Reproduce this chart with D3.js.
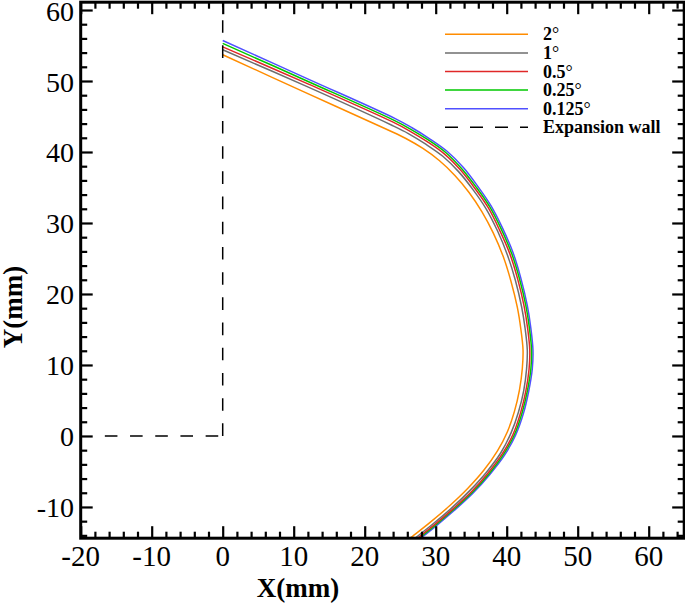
<!DOCTYPE html>
<html><head><meta charset="utf-8">
<script src="https://cdn.jsdelivr.net/npm/d3@7"></script>
<style>body{margin:0;background:#fff}svg{display:block}</style>
</head><body>
<svg id="c" width="685" height="605"></svg>
<script>
const seriesNames = ["2", "1", "0.5", "0.25", "0.125"];
const seriesColors = ["#ff8c00", "#6e6e6e", "#e02828", "#00c800", "#5050ff"];
const s2 = [[0,53.7],[11.6,48.4],[23.3,43.1],[25.8,41.9],[28.2,40.5],[30.5,38.8],[32.7,36.7],[34.7,34.3],[36.5,31.6],[38.1,28.6],[39.5,25.3],[40.6,21.8],[41.5,18.1],[42.0,15.0],[42.3,12.1],[42.2,9.5],[41.8,6.5],[41.1,3.5],[40.1,0.6],[38.7,-2.1],[36.8,-4.8],[34.5,-7.4],[32.0,-9.8],[29.3,-12.1],[26.4,-14.4],[25.4,-15.2]];
const s1 = [[0,54.4],[11.9,49.2],[23.75,43.8],[26.15,42.6],[28.6,41.1],[31.0,39.4],[33.25,37.2],[35.25,34.7],[37.1,32.0],[38.7,28.9],[40.1,25.5],[41.2,22.0],[42.1,18.2],[42.6,15.1],[42.9,12.1],[42.8,9.45],[42.4,6.4],[41.65,3.35],[40.6,0.4],[39.15,-2.4],[37.15,-5.1],[34.8,-7.7],[32.3,-10.1],[29.6,-12.4],[26.7,-14.7],[25.7,-15.5]];
const s05 = [[0,54.8],[12.0,49.6],[24.0,44.2],[26.35,42.95],[28.8,41.45],[31.25,39.7],[33.5,37.45],[35.5,34.9],[37.4,32.15],[39.0,29.0],[40.45,25.65],[41.55,22.1],[42.45,18.3],[42.95,15.15],[43.25,12.1],[43.15,9.4],[42.7,6.35],[41.95,3.25],[40.9,0.25],[39.4,-2.5],[37.35,-5.25],[35.0,-7.9],[32.4,-10.3],[29.7,-12.6],[26.8,-14.9],[25.8,-15.7]];
const s025 = [[0,55.3],[12.1,49.9],[24.15,44.45],[26.5,43.2],[28.95,41.7],[31.45,39.9],[33.7,37.6],[35.7,35.05],[37.6,32.3],[39.25,29.1],[40.7,25.7],[41.8,22.15],[42.7,18.35],[43.2,15.2],[43.5,12.1],[43.4,9.4],[42.9,6.3],[42.15,3.2],[41.1,0.2],[39.55,-2.6],[37.5,-5.35],[35.1,-8.0],[32.5,-10.4],[29.8,-12.7],[26.9,-15.0],[25.9,-15.8]];
const s0125 = [[0,55.7],[12.2,50.2],[24.3,44.7],[26.6,43.45],[29.1,41.9],[31.6,40.1],[33.9,37.8],[35.9,35.2],[37.8,32.4],[39.45,29.2],[40.9,25.8],[42.0,22.2],[42.9,18.4],[43.4,15.2],[43.7,12.1],[43.6,9.4],[43.1,6.3],[42.35,3.15],[41.25,0.1],[39.7,-2.7],[37.6,-5.45],[35.2,-8.1],[32.6,-10.5],[29.9,-12.8],[27.0,-15.1],[26.0,-15.9]];
const seriesData = [s2, s1, s05, s025, s0125];
const wallVertical = [[0,0],[0,61.1]];
const wallHorizontal = [[-16.6,0],[0,0]];
const xTicks = [-20,-10,0,10,20,30,40,50,60];
const yTicks = [-10,0,10,20,30,40,50,60];
const xDomain = [-20, 65];
const yDomain = [-14.4, 61.1];

const svg = d3.select("#c");
const x = d3.scaleLinear().domain(xDomain).range([80.7, 684.2]);
const y = d3.scaleLinear().domain(yDomain).range([538.2, 2.2]);
const font = "'Liberation Serif','Times New Roman',serif";

svg.append("defs").append("clipPath").attr("id","pc").append("rect")
  .attr("x", x(xDomain[0])).attr("y", y(yDomain[1]))
  .attr("width", x(xDomain[1]) - x(xDomain[0])).attr("height", y(yDomain[0]) - y(yDomain[1]));

const line = d3.line().x(d => x(d[0])).y(d => y(d[1])).curve(d3.curveCatmullRom.alpha(0.5));
const g = svg.append("g").attr("clip-path","url(#pc)");
for (let i = seriesData.length - 1; i >= 0; i--) {
  g.append("path").datum(seriesData[i]).attr("d", line)
    .attr("fill","none").attr("stroke", seriesColors[i]).attr("stroke-width", 1.5);
}
const lin = d3.line().x(d => x(d[0])).y(d => y(d[1]));
g.append("path").datum(wallVertical).attr("d", lin).attr("fill","none")
  .attr("stroke","#000").attr("stroke-width",1.5).attr("stroke-dasharray","12.6,12.6");
g.append("path").datum(wallHorizontal).attr("d", lin).attr("fill","none")
  .attr("stroke","#000").attr("stroke-width",1.5).attr("stroke-dasharray","12.6,12.6");

// axes with inward ticks
const minorX = d3.range(-20, 65.01, 2).filter(v => v % 10 !== 0);
const minorY = d3.range(-14, 61.01, 2).filter(v => v % 10 !== 0);
function ticks(axisGen, tr) {
  return svg.append("g").attr("transform", tr).call(axisGen)
    .call(s => s.select(".domain").remove())
    .call(s => s.selectAll("text").remove())
    .call(s => s.selectAll("line").attr("stroke","#000").attr("stroke-width",2.2));
}
const majL = 12, minL = 6.5;
ticks(d3.axisTop(x).tickValues(xTicks).tickSize(majL), `translate(0,${y(yDomain[0])})`);
ticks(d3.axisTop(x).tickValues(minorX).tickSize(minL), `translate(0,${y(yDomain[0])})`);
ticks(d3.axisBottom(x).tickValues(xTicks).tickSize(majL), `translate(0,${y(yDomain[1])})`);
ticks(d3.axisBottom(x).tickValues(minorX).tickSize(minL), `translate(0,${y(yDomain[1])})`);
ticks(d3.axisRight(y).tickValues(yTicks).tickSize(majL), `translate(${x(xDomain[0])},0)`);
ticks(d3.axisRight(y).tickValues(minorY).tickSize(minL), `translate(${x(xDomain[0])},0)`);
ticks(d3.axisLeft(y).tickValues(yTicks).tickSize(majL), `translate(${x(xDomain[1])},0)`);
ticks(d3.axisLeft(y).tickValues(minorY).tickSize(minL), `translate(${x(xDomain[1])},0)`);

svg.append("rect").attr("x", x(xDomain[0])).attr("y", y(yDomain[1]))
  .attr("width", x(xDomain[1]) - x(xDomain[0])).attr("height", y(yDomain[0]) - y(yDomain[1]))
  .attr("fill","none").attr("stroke","#000").attr("stroke-width",3);

// tick labels
svg.append("g").selectAll("text").data(xTicks).join("text")
  .attr("x", d => x(d)).attr("y", 566).attr("text-anchor","middle")
  .attr("font-family", font).attr("font-size", 29).text(d => d);
svg.append("g").selectAll("text").data(yTicks).join("text")
  .attr("x", 74).attr("y", d => y(d) + 10.5).attr("text-anchor","end")
  .attr("font-family", font).attr("font-size", 28).text(d => d);

svg.append("text").attr("x", 298).attr("y", 597).attr("text-anchor","middle")
  .attr("font-family", font).attr("font-size", 27).attr("font-weight","bold").text("X(mm)");
svg.append("text").attr("transform","translate(22,307) rotate(-90)").attr("text-anchor","middle")
  .attr("font-family", font).attr("font-size", 27).attr("font-weight","bold").text("Y(mm)");

// legend
const legY0 = 34.3, legDy = 18.6;
const leg = svg.append("g");
seriesNames.forEach((n, i) => {
  const yy = legY0 + i * legDy;
  leg.append("line").attr("x1",445).attr("x2",528).attr("y1",yy).attr("y2",yy)
    .attr("stroke", seriesColors[i]).attr("stroke-width",1.5);
  const t = leg.append("text").attr("x",543).attr("y",yy+6).attr("font-family",font)
    .attr("font-size",18).attr("font-weight","bold");
  t.append("tspan").text(n);
  t.append("tspan").attr("font-weight","normal").attr("font-size",18).text("\u00B0");
});
const yw = legY0 + 5 * legDy;
leg.append("line").attr("x1",445).attr("x2",528).attr("y1",yw).attr("y2",yw)
  .attr("stroke","#000").attr("stroke-width",1.5).attr("stroke-dasharray","13,12");
leg.append("text").attr("x",543).attr("y",yw+6).attr("font-family",font)
  .attr("font-size",18).attr("font-weight","bold").text("Expansion wall");
</script>
</body></html>
